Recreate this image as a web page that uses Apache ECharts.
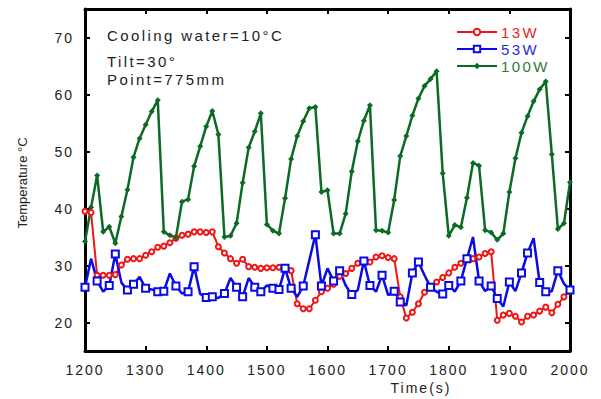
<!DOCTYPE html>
<html><head><meta charset="utf-8">
<script src="https://cdn.jsdelivr.net/npm/echarts@6/dist/echarts.min.js"></script>
<style>html,body{margin:0;padding:0;background:#fff}#c{width:601px;height:399px}</style>
</head><body><div id="c"></div>
<script>
const time = [1200,1210,1220,1230,1240,1250,1260,1270,1280,1290,
  1300,1310,1320,1330,1340,1350,1360,1370,1380,1390,
  1400,1410,1420,1430,1440,1450,1460,1470,1480,1490,
  1500,1510,1520,1530,1540,1550,1560,1570,1580,1590,
  1600,1610,1620,1630,1640,1650,1660,1670,1680,1690,
  1700,1710,1720,1730,1740,1750,1760,1770,1780,1790,
  1800,1810,1820,1830,1840,1850,1860,1870,1880,1890,
  1900,1910,1920,1930,1940,1950,1960,1970,1980,1990,2000];
const temp13W = [39.5,39.3,28.3,28.3,28.3,28.4,30.1,31.1,31.2,31.2,
  31.8,32.4,33.2,33.4,34.0,34.8,35.3,35.5,35.9,35.9,
  35.8,35.9,33.3,32.2,31.2,30.4,31.1,29.8,29.7,29.5,
  29.6,29.6,29.7,29.5,29.1,23.3,22.4,22.4,23.9,25.4,
  26.0,26.7,28.1,28.6,29.5,30.4,30.8,30.6,31.5,31.7,
  31.4,31.2,24.5,20.8,21.8,23.3,25.3,26.2,27.1,27.9,
  28.7,29.7,30.4,31.1,31.2,31.5,32.1,32.4,20.4,21.3,
  21.6,21.1,20.1,21.1,21.3,22.0,22.7,21.7,23.2,24.5,25.5];
const temp53W = [26.2,31.2,27.3,25.4,26.5,32.0,27.0,25.7,26.7,28.0,
  26.0,25.8,25.4,25.5,28.6,26.4,25.1,25.4,29.8,25.0,
  24.4,24.5,24.3,25.1,27.8,26.2,24.5,27.8,26.2,25.4,
  26.5,26.0,25.8,29.5,26.0,24.5,26.4,30.9,35.4,26.4,
  29.5,27.3,29.1,26.5,24.9,25.7,30.8,26.5,25.4,28.3,
  24.8,25.5,23.6,23.0,28.7,30.6,28.3,26.2,25.4,25.0,
  26.5,25.4,27.3,31.2,35.0,27.3,25.5,26.4,24.2,22.8,
  27.1,25.5,28.7,32.2,34.8,27.0,25.4,25.5,29.1,26.8,25.7];
const temp100W = [34.2,40.2,45.8,35.9,36.8,33.9,38.6,43.3,49.0,52.3,
  54.7,57.0,59.0,35.9,35.3,34.9,41.2,41.6,47.4,50.9,
  54.4,57.1,53.0,35.0,35.2,37.4,44.5,50.7,53.5,56.7,
  37.2,36.1,35.6,41.8,48.7,52.7,55.3,57.6,57.8,42.9,
  43.2,35.6,35.6,39.1,46.5,51.8,55.4,58.1,36.2,36.1,
  35.8,41.5,49.2,52.7,56.3,59.3,61.5,62.7,64.1,46.2,
  35.2,37.1,36.7,41.9,48.0,47.5,36.2,35.8,34.5,35.6,
  42.9,48.8,53.3,56.2,58.8,60.9,62.3,49.5,36.4,37.4,44.6];
const marker53W = [1,0,1,0,1,1,0,1,1,0,
  1,0,1,1,0,1,0,1,1,0,
  1,1,0,1,0,1,1,0,1,1,
  0,1,1,1,1,0,1,0,1,1,
  0,1,1,0,1,0,1,1,0,1,
  0,1,1,0,1,1,0,1,0,1,
  1,0,1,1,0,1,0,1,1,0,
  1,0,1,1,0,1,1,0,1,0,1];
const xMin = 1200, xMax = 2000, xStep = 100;
const yMin = 15, yMax = 75;
const yTicks = [20,30,40,50,60,70];
const seriesNames = ['13W','53W','100W'];
const notes = ['Cooling water=10°C','Tilt=30°','Point=775mm'];
const xName = 'Time(s)';
const yName = 'Temperature °C';

const FONT = '"Liberation Sans", Arial, sans-serif';
const colors = ['#f01414','#0a0ae6','#0b6a23'];
const textColors = ['#e8262a','#2a2ad6','#2f7a3c'];

const chart = echarts.init(document.getElementById('c'), null, {renderer:'svg', width:601, height:399});

const axisLine = {show:true, onZero:false, lineStyle:{color:'#000', width:3}};
const axisTick = {show:true, inside:true, length:5, lineStyle:{color:'#000', width:2}};
const lblStyle = {fontSize:14, fontFamily:FONT, color:'#222'};

chart.setOption({
  animation:false,
  backgroundColor:'#fff',
  textStyle:{fontFamily:FONT},
  grid:{left:85, right:31, top:9, bottom:48, containLabel:false},
  xAxis:[
    {type:'value', min:xMin, max:xMax, interval:xStep, position:'bottom',
     axisLine, axisTick, splitLine:{show:false},
     axisLabel:Object.assign({margin:12, showMinLabel:true, showMaxLabel:true, formatter:v=>String(v)}, lblStyle)},
    {type:'value', min:xMin, max:xMax, interval:xStep, position:'top',
     axisLine, axisTick, splitLine:{show:false}, axisLabel:{show:false}}
  ],
  yAxis:[
    {type:'value', min:yMin, max:yMax, position:'left',
     axisLine, axisTick:Object.assign({customValues:yTicks}, axisTick), splitLine:{show:false},
     axisLabel:Object.assign({margin:11, customValues:yTicks, formatter:v=>String(v)}, lblStyle)},
    {type:'value', min:yMin, max:yMax, position:'right',
     axisLine, axisTick:Object.assign({customValues:yTicks}, axisTick), splitLine:{show:false},
     axisLabel:{show:false, customValues:yTicks}}
  ],
  legend:{
    orient:'vertical', left:451, top:19, itemWidth:40, itemHeight:8, itemGap:1,
    textStyle:{fontSize:15, fontFamily:FONT, lineHeight:16, padding:[0,0,0,-1]},
    data: seriesNames.map((n,i)=>({name:n, textStyle:{color:textColors[i]}}))
  },
  series:[
    {name:seriesNames[0], type:'line', symbol:'emptyCircle', symbolSize:5,
     lineStyle:{color:colors[0], width:2}, itemStyle:{color:colors[0], borderWidth:1},
     data: time.map((t,i)=>[t, temp13W[i]])},
    {name:seriesNames[1], type:'line', symbol:'emptyRect', symbolSize:7,
     lineStyle:{color:colors[1], width:2.5}, itemStyle:{color:colors[1], borderWidth:1.5},
     data: time.map((t,i)=> marker53W[i] ? [t, temp53W[i]] : {value:[t, temp53W[i]], symbol:'none'})},
    {name:seriesNames[2], type:'line', symbol:'diamond', symbolSize:6,
     lineStyle:{color:colors[2], width:2.5}, itemStyle:{color:colors[2]},
     data: time.map((t,i)=>[t, temp100W[i]])}
  ],
  graphic:[
    {type:'text', left:107, top:28, style:{text:notes[0], font:'15px '+FONT, fill:'#222'}},
    {type:'text', left:107, top:54, style:{text:notes[1], font:'15px '+FONT, fill:'#222'}},
    {type:'text', left:107, top:72, style:{text:notes[2], font:'15px '+FONT, fill:'#222'}},
    {type:'text', x:421, y:388, style:{text:xName, align:'center', verticalAlign:'middle', font:'14px '+FONT, fill:'#222'}},
    {type:'text', x:22, y:183, rotation:Math.PI/2, style:{text:yName, align:'center', verticalAlign:'middle', font:'13px '+FONT, fill:'#222'}}
  ]
});

function spaceText(){
  document.querySelectorAll('#c svg text').forEach(t=>{
    if(/Temperature/.test(t.textContent)) return;
    const fs = parseFloat(getComputedStyle(t).fontSize) || 14;
    t.style.letterSpacing = fs >= 15 ? '2.4px' : '2px';
  });
}
chart.on('finished', spaceText);
spaceText();
setTimeout(spaceText, 30);
setTimeout(spaceText, 200);
</script>
</body></html>
